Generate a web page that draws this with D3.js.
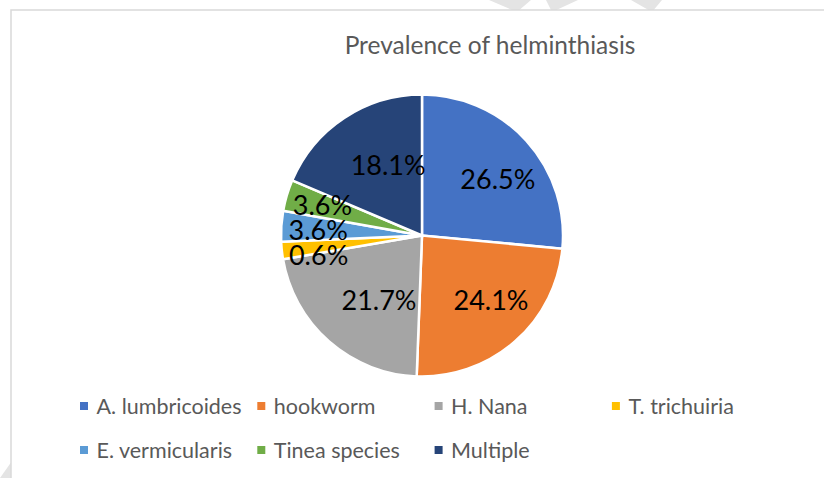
<!DOCTYPE html>
<html>
<head>
<meta charset="utf-8">
<script src="https://cdn.jsdelivr.net/npm/d3@7"></script>
<style>
  html, body { margin: 0; padding: 0; background: #fff; }
  svg { display: block; }
</style>
</head>
<body>
<svg id="chart" width="824" height="478"></svg>
<script>
// ---- data ----
const title = "Prevalence of helminthiasis";
const categories = ["A. lumbricoides", "hookworm", "H. Nana", "T. trichuiria", "E. vermicularis", "Tinea species", "Multiple"];
// share of the pie
const shares = [26.5, 24.1, 21.7, 2.0, 3.5, 3.6, 18.6];
// data labels as printed on the chart
const labelValues = [26.5, 24.1, 21.7, 0.6, 3.6, 3.6, 18.1];
const colors = ["#4472C4", "#ED7D31", "#A5A5A5", "#FFC000", "#5B9BD5", "#70AD47", "#264478"];

// ---- layout ----
const W = 824, H = 478;
const cx = 422, cy = 235.5, R = 141;
const FONT = "Lato, 'Open Sans', sans-serif";

const svg = d3.select("#chart");

// watermark fragments behind the chart frame
const wm = svg.append("g").attr("fill", "#e4e4e4");
[
  [[489, 0], [531, 0], [517, 12]],
  [[546, 0], [578, 0], [552, 12]],
  [[631, 0], [662, 0], [652, 12]],
  [[0, 478], [12, 461], [12, 478]]
].forEach(p => wm.append("polygon").attr("points", p.map(q => q.join(",")).join(" ")));

// chart area
svg.append("rect")
  .attr("x", 11).attr("y", 10).attr("width", W + 20).attr("height", H + 20)
  .attr("fill", "#fff").attr("stroke", "#d9d9d9").attr("stroke-width", 1.5);

// title
svg.append("text")
  .attr("x", 490).attr("y", 54)
  .attr("text-anchor", "middle")
  .attr("font-family", FONT).attr("font-size", 24.5)
  .attr("fill", "#595959")
  .text(title);

// pie
const pie = d3.pie().sort(null).value(d => d.share);
const data = categories.map((c, i) => ({ name: c, share: shares[i], label: labelValues[i], color: colors[i] }));
const arcs = pie(data);
const arc = d3.arc().innerRadius(0).outerRadius(R);

const g = svg.append("g").attr("transform", `translate(${cx},${cy})`);
g.selectAll("path.slice").data(arcs).join("path")
  .attr("class", "slice")
  .attr("d", arc)
  .attr("fill", d => d.data.color)
  .attr("stroke", "#fff").attr("stroke-width", 2.5).attr("stroke-linejoin", "miter");

// labels: large slices inside, small slices further out and spread vertically
const fmt = v => d3.format(".1f")(v) + "%";
const bigArc = d3.arc().innerRadius(85).outerRadius(85);
const smallArc = d3.arc().innerRadius(108).outerRadius(108);
const pos = arcs.map(a => {
  const small = a.data.share < 5;
  const c = (small ? smallArc : bigArc).centroid(a);
  return { x: small ? c[0] + 4 : c[0] + 13, y: c[1], small, a };
});
// spread small labels so they do not collide
const smalls = pos.filter(p => p.small).sort((p, q) => p.y - q.y);
for (let i = 1; i < smalls.length; i++) {
  if (smalls[i].y - smalls[i - 1].y < 25) smalls[i].y = smalls[i - 1].y + 25;
}
g.selectAll("text.lbl").data(pos).join("text")
  .attr("class", "lbl")
  .attr("x", d => d.x).attr("y", d => d.y)
  .attr("text-anchor", "middle").attr("dominant-baseline", "central")
  .attr("font-family", FONT).attr("font-size", 27)
  .attr("fill", "#000")
  .text(d => fmt(d.a.data.label));

// legend
const colX = d3.scaleLinear().domain([0, 1]).range([80, 257.3]);
const rowY = d3.scaleLinear().domain([0, 1]).range([406, 450]);
const perRow = 4;
const leg = svg.append("g").selectAll("g").data(data).join("g")
  .attr("transform", (d, i) => `translate(${colX(i % perRow)},${rowY(Math.floor(i / perRow))})`);
leg.append("rect").attr("x", 0).attr("y", -4).attr("width", 8).attr("height", 8).attr("fill", d => d.color);
leg.append("text")
  .attr("x", 16.5).attr("y", 0)
  .attr("dominant-baseline", "central")
  .attr("font-family", FONT).attr("font-size", 21.5)
  .attr("fill", "#595959")
  .text(d => d.name);
</script>
</body>
</html>
